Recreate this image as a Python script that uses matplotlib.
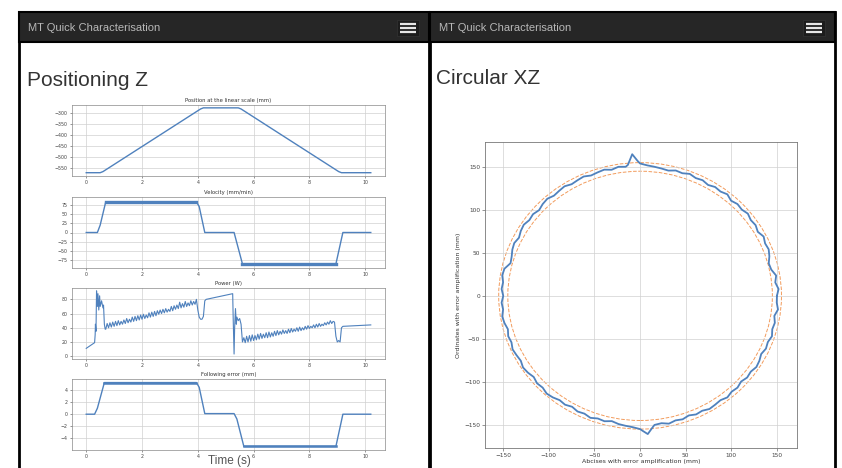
import numpy as np
import matplotlib.pyplot as plt
from matplotlib.patches import Rectangle, Circle

# --- data ---
pos_t = [0, 0.5, 0.6, 4.1, 4.2, 5.45, 5.55, 9.05, 9.15, 10.2]
pos_v = [-570, -570, -565, -280, -275, -275, -280, -565, -570, -570]

vel_t = [0, 0.4, 0.5, 0.7, 3.95, 4.05, 4.25, 5.3, 5.6, 8.95, 9.2, 10.2]
vel_v = [0, 0, 20, 83, 83, 70, 0, 0, -85, -85, 0, 0]

err_t = [0, 0.3, 0.4, 0.65, 3.95, 4.05, 4.25, 5.3, 5.4, 5.65, 8.95, 9.2, 10.2]
err_v = [0, 0, 1.0, 5.3, 5.3, 4.5, 0.1, 0.1, -0.8, -5.4, -5.4, 0, 0]

# power: start-up transient, ripple ramp 1, plateau, drop, ripple ramp 2, tail
pw_start_t = [0, 0.3, 0.32, 0.33, 0.35, 0.37, 0.40, 0.42, 0.45, 0.48, 0.50,
              0.55, 0.60, 0.62, 0.65, 0.68]
pw_start_v = [11, 19, 30, 45, 35, 92, 70, 88, 65, 85, 70, 78, 68, 72, 45, 38]
pw_ramp1_v = [38, 46, 40, 47, 41, 48, 42, 49, 43, 50, 44, 49, 45, 51, 46, 53,
              47, 52, 48, 55, 49, 56, 50, 57, 51, 58, 52, 59, 53, 58, 54, 61,
              55, 62, 56, 63, 57, 64, 59, 65, 60, 66, 61, 67, 62, 66, 63, 70,
              64, 71, 66, 72, 67, 76, 68, 74, 69, 77, 70, 75, 71, 78, 72, 77,
              73, 80]
pw_mid_t = [4.0, 4.05, 4.1, 4.15, 4.2, 4.25, 4.3, 5.25, 5.27, 5.3, 5.32,
            5.35, 5.38, 5.4, 5.45, 5.5, 5.55, 5.6]
pw_mid_v = [65, 55, 52, 52, 56, 78, 80, 88, 50, 3, 40, 67, 45, 55, 50, 53,
            45, 20]
pw_ramp2_v = [26, 19, 28, 20, 29, 21, 30, 22, 29, 23, 31, 24, 32, 25, 31, 26,
              33, 26, 34, 27, 33, 28, 35, 29, 36, 30, 35, 31, 37, 32, 36, 32,
              38, 33, 39, 34, 38, 35, 40, 35, 41, 36, 40, 37, 42, 38, 43, 39,
              42, 40, 44, 40, 45, 41, 46, 42, 45, 43, 47, 44, 48, 45, 50, 46,
              49]
pw_end_t = [8.9, 8.95, 9.0, 9.05, 9.1, 9.15, 9.2, 10.2]
pw_end_v = [48, 28, 20, 22, 20, 40, 42, 44]

# circular test: radius (mm, amplified) every 3 degrees, plus a few extra points
circ_r = [150, 152, 149, 151, 147, 146, 149, 151, 150, 152,
          149, 151, 150, 152, 150, 151, 149, 152, 150, 151,
          149, 151, 150, 152, 150, 151, 149, 150, 151, 152,
          154, 165, 151, 152, 150, 152, 151, 150, 152, 151,
          150, 152, 151, 150, 152, 151, 149, 151, 150, 152,
          151, 149, 151, 150, 148, 147, 152, 153, 151, 152,
          150, 152, 151, 153, 152, 150, 152, 151, 153, 152,
          151, 153, 152, 150, 152, 151, 153, 152, 150, 151,
          149, 151, 150, 152, 150, 151, 149, 151, 152, 153,
          155, 161, 151, 150, 152, 150, 151, 149, 151, 150,
          152, 151, 150, 152, 150, 151, 149, 151, 150, 152,
          151, 149, 151, 150, 152, 150, 151, 149, 152, 150]
circ_ang = list(range(0, 360, 3))
extra_ang = [91, 95, 271, 275]
extra_r = [157, 153, 157, 154]

blue = '#4f81bd'
orange = '#f29b5c'

fig = plt.figure(figsize=(8.42, 4.68), dpi=100)

# background layer in pixel coordinates (phone frames, headers)
bg = fig.add_axes([0, 0, 1, 1])
bg.set_xlim(0, 842)
bg.set_ylim(468, 0)
bg.axis('off')
for x0, x1 in [(19, 429), (430, 835)]:
    bg.add_patch(Rectangle((x0, 12), x1 - x0, 470, fc='white', ec='black', lw=2))
    bg.add_patch(Rectangle((x0, 12), x1 - x0, 30, fc='#262626', ec='black', lw=1.5))
    bg.text(x0 + 9, 28, 'MT Quick Characterisation', color='#b8b8b8', fontsize=8,
            family='Liberation Sans', va='center')
    hx = x1 - 30
    bg.add_patch(Rectangle((hx - 2, 20), 22, 16, fc='#1c1c1c', ec='#333333', lw=0.5))
    for hy in [24, 28, 32]:
        bg.plot([hx + 1, hx + 17], [hy, hy], color='#e6e6e6', lw=1.6,
                solid_capstyle='butt')
bg.text(27, 80, 'Positioning Z', fontsize=15, color='#333333',
        family='Liberation Sans', va='center')
bg.text(436, 78, 'Circular XZ', fontsize=15, color='#333333',
        family='Liberation Sans', va='center')
bg.text(229, 461, 'Time (s)', fontsize=8.5, color='#555555',
        family='Liberation Sans', ha='center', va='center')


def small_axes(top, title):
    ax = fig.add_axes([72 / 842, 1 - (top + 71) / 468, 313 / 842, 71 / 468])
    ax.set_title(title, fontsize=3.8, pad=2, color='#333333')
    ax.tick_params(labelsize=3.4, length=1.5, width=0.4, pad=1.5,
                   colors='#444444')
    ax.set_xticks([0, 2, 4, 6, 8, 10])
    ax.set_xlim(-0.51, 10.71)
    ax.grid(True, color='#d0d0d0', lw=0.5)
    for s in ax.spines.values():
        s.set_linewidth(0.5)
        s.set_color('#888888')
    return ax


ax1 = small_axes(105, 'Position at the linear scale (mm)')
ax1.plot(pos_t, pos_v, color=blue, lw=1)
ax1.set_ylim(-585, -262)
ax1.set_yticks([-300, -350, -400, -450, -500, -550])

ax2 = small_axes(197, 'Velocity (mm/min)')
ax2.plot(vel_t, vel_v, color=blue, lw=1)
ax2.plot(vel_t[3:5], vel_v[3:5], color=blue, lw=2.4)
ax2.plot(vel_t[8:10], vel_v[8:10], color=blue, lw=2.4)
ax2.set_ylim(-96, 96)
ax2.set_yticks([-75, -50, -25, 0, 25, 50, 75])

ax3 = small_axes(288, 'Power (W)')
pw_t = (pw_start_t + list(np.linspace(0.70, 3.95, len(pw_ramp1_v))) + pw_mid_t
        + list(np.linspace(5.65, 8.85, len(pw_ramp2_v))) + pw_end_t)
pw_v = pw_start_v + pw_ramp1_v + pw_mid_v + pw_ramp2_v + pw_end_v
ax3.plot(pw_t, pw_v, color=blue, lw=0.8)
ax3.set_ylim(-4, 96)
ax3.set_yticks([0, 20, 40, 60, 80])

ax4 = small_axes(379, 'Following error (mm)')
ax4.plot(err_t, err_v, color=blue, lw=1)
ax4.plot(err_t[3:5], err_v[3:5], color=blue, lw=1.8)
ax4.plot(err_t[9:11], err_v[9:11], color=blue, lw=1.8)
ax4.set_ylim(-6.0, 5.9)
ax4.set_yticks([-4, -2, 0, 2, 4])

# circular plot
axc = fig.add_axes([485 / 842, 1 - 448 / 468, 312 / 842, 306 / 468])
ang = np.array(circ_ang + extra_ang, dtype=float)
rad = np.array(circ_r + extra_r, dtype=float)
order = np.argsort(ang)
ang = np.append(ang[order], ang[order][0] + 360)
rad = np.append(rad[order], rad[order][0])
th = np.deg2rad(ang)
for rr in [145, 155]:
    axc.add_patch(Circle((0, 0), rr, fill=False, ls='--', ec=orange, lw=0.7))
axc.plot(rad * np.cos(th), rad * np.sin(th), color=blue, lw=1.3)
axc.set_xlim(-170, 172)
axc.set_ylim(-177, 179)
axc.set_xticks([-150, -100, -50, 0, 50, 100, 150])
axc.set_yticks([-150, -100, -50, 0, 50, 100, 150])
axc.grid(True, color='#d0d0d0', lw=0.5)
axc.tick_params(labelsize=4.2, length=2, width=0.4, pad=1.5, colors='#444444')
axc.set_xlabel('Abcises with error amplification (mm)', fontsize=4.5,
               labelpad=1, color='#333333')
axc.set_ylabel('Ordinates with error amplification (mm)', fontsize=4.5,
               labelpad=2, color='#333333')
for s in axc.spines.values():
    s.set_linewidth(0.6)
    s.set_color('#777777')

fig.savefig('out.png', dpi=100)
